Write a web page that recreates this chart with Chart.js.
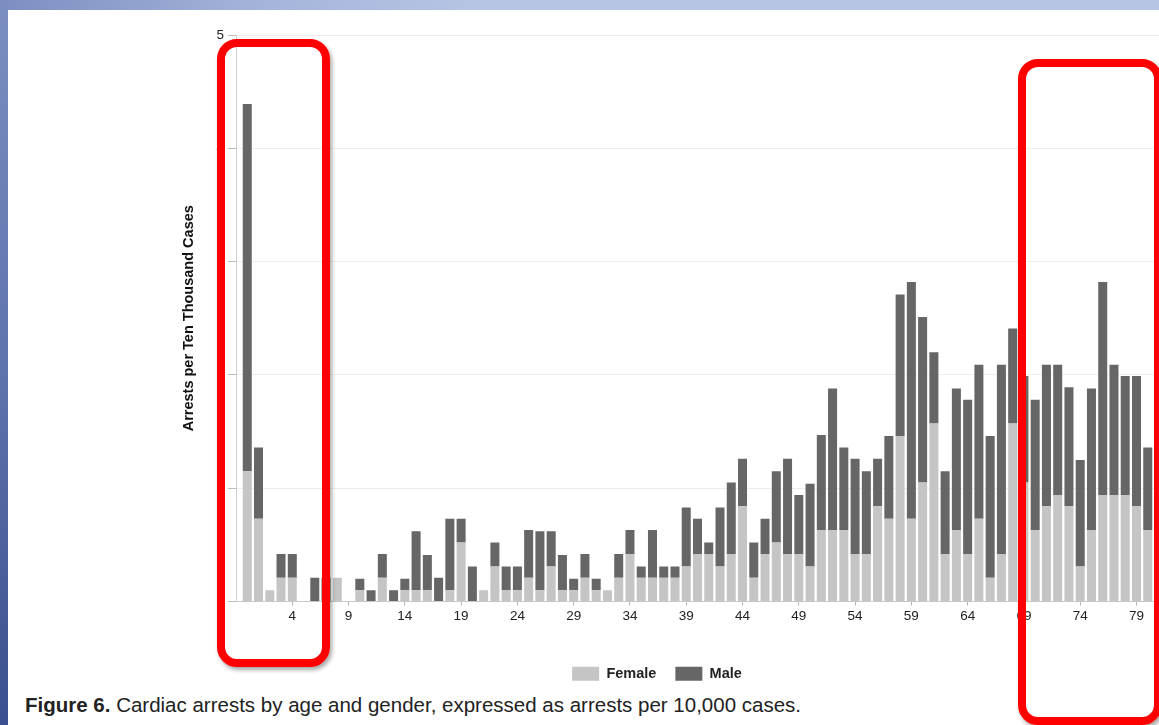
<!DOCTYPE html>
<html>
<head>
<meta charset="utf-8">
<title>Cardiac arrests by age and gender</title>
<script src="https://cdn.jsdelivr.net/npm/chart.js@4/dist/chart.umd.min.js"></script>
<style>
  html, body { margin: 0; padding: 0; }
  body { width: 1159px; height: 725px; position: relative; overflow: hidden; background: #fff;
         font-family: "Liberation Sans", Arial, sans-serif; }
  #band-top { position: absolute; left: 0; top: 0; width: 1159px; height: 10px;
              background: linear-gradient(90deg, #7c8ec1 0%, #a4b3da 22%, #b6c3e3 40%, #b7c4e4 100%); }
  #band-left { position: absolute; left: 0; top: 0; width: 8px; height: 725px;
               background: linear-gradient(180deg, #7c8ec1 0%, #5c70aa 55%, #3a4f8f 100%); }
  #chart { position: absolute; left: 155px; top: 20px; }
  #caption { position: absolute; left: 25px; top: 693px; font-size: 20.5px; line-height: 24px; color: #222;
             white-space: nowrap; }
  .callout { position: absolute; box-sizing: border-box; border: 8px solid #ff0000; border-radius: 20px;
             box-shadow: 2px 3px 4px rgba(0,0,0,0.35); }
</style>
</head>
<body>
<div id="band-top"></div>
<div id="band-left"></div>
<canvas id="chart" width="1004" height="671"></canvas>
<div id="caption"><b>Figure 6.</b> Cardiac arrests by age and gender, expressed as arrests per 10,000 cases.</div>
<div class="callout" style="left:217px; top:39px; width:113px; height:628px;"></div>
<div class="callout" style="left:1018px; top:59px; width:144px; height:666px;"></div>
<script>
// Age in years (one bar per year)
const ages = [0, 1, 2, 3, 4, 5, 6, 7, 8, 9,
              10, 11, 12, 13, 14, 15, 16, 17, 18, 19,
              20, 21, 22, 23, 24, 25, 26, 27, 28, 29,
              30, 31, 32, 33, 34, 35, 36, 37, 38, 39,
              40, 41, 42, 43, 44, 45, 46, 47, 48, 49,
              50, 51, 52, 53, 54, 55, 56, 57, 58, 59,
              60, 61, 62, 63, 64, 65, 66, 67, 68, 69,
              70, 71, 72, 73, 74, 75, 76, 77, 78, 79, 80];

// Arrests per 10,000 cases, female
const female = [1.15, 0.73, 0.10, 0.21, 0.21, 0, 0, 0, 0.21, 0,
                0.10, 0, 0.21, 0, 0.10, 0.10, 0.10, 0, 0.10, 0.52,
                0, 0.10, 0.31, 0.10, 0.10, 0.21, 0.10, 0.31, 0.10, 0.10,
                0.21, 0.10, 0.10, 0.21, 0.42, 0.21, 0.21, 0.21, 0.21, 0.31,
                0.42, 0.42, 0.31, 0.42, 0.84, 0.21, 0.42, 0.52, 0.42, 0.42,
                0.31, 0.63, 0.63, 0.63, 0.42, 0.42, 0.84, 0.73, 1.46, 0.73,
                1.05, 1.57, 0.42, 0.63, 0.42, 0.73, 0.21, 0.42, 1.57, 1.05,
                0.63, 0.84, 0.94, 0.84, 0.31, 0.63, 0.94, 0.94, 0.94, 0.84, 0.63];

// Arrests per 10,000 cases, male (stacked above female)
const male = [3.24, 0.63, 0, 0.21, 0.21, 0, 0.21, 0.21, 0, 0,
              0.10, 0.10, 0.21, 0.10, 0.10, 0.52, 0.31, 0.21, 0.63, 0.21,
              0.31, 0, 0.21, 0.21, 0.21, 0.42, 0.52, 0.31, 0.31, 0.10,
              0.21, 0.10, 0, 0.21, 0.21, 0.10, 0.42, 0.10, 0.10, 0.52,
              0.31, 0.10, 0.52, 0.63, 0.42, 0.31, 0.31, 0.63, 0.84, 0.52,
              0.73, 0.84, 1.25, 0.73, 0.84, 0.73, 0.42, 0.73, 1.25, 2.09,
              1.46, 0.63, 0.73, 1.25, 1.36, 1.36, 1.25, 1.67, 0.84, 0.94,
              1.15, 1.25, 1.15, 1.05, 0.94, 1.25, 1.88, 1.15, 1.05, 1.15, 0.73];

// Labelled ages on the horizontal axis and values on the vertical axis
const ageTicks = [4, 9, 14, 19, 24, 29, 34, 39, 44, 49, 54, 59, 64, 69, 74, 79];
const rateTicks = [0, 1, 2, 3, 4, 5];

const FONT = '"Liberation Sans", Arial, sans-serif';

new Chart(document.getElementById('chart'), {
  type: 'bar',
  data: {
    datasets: [
      { label: 'Female', data: ages.map((a, i) => ({ x: a, y: female[i] })),
        backgroundColor: '#c5c5c5', borderWidth: 0, stack: 'rate' },
      { label: 'Male', data: ages.map((a, i) => ({ x: a, y: male[i] })),
        backgroundColor: '#666666', borderWidth: 0, stack: 'rate' }
    ]
  },
  options: {
    responsive: false,
    animation: false,
    devicePixelRatio: 1,
    layout: { padding: { top: 15, left: 0, right: 0, bottom: 0 } },
    datasets: { bar: { categoryPercentage: 0.8, barPercentage: 1.0 } },
    plugins: {
      tooltip: { enabled: false },
      legend: {
        position: 'bottom',
        labels: { boxWidth: 27, boxHeight: 14, padding: 19, color: '#222',
                  font: { family: FONT, size: 14.5, weight: 'bold' } }
      }
    },
    scales: {
      x: {
        type: 'linear', stacked: true, min: -1, max: 81, offset: false,
        afterBuildTicks: s => { s.ticks = ageTicks.map(v => ({ value: v })); },
        afterFit: s => { s.height = 46; },
        grid: { display: true, drawOnChartArea: false, drawTicks: true, tickLength: 4,
                tickColor: '#b5b5b5', offset: false },
        border: { display: true, color: '#c9c9c9' },
        ticks: { color: '#222', font: { family: FONT, size: 13.5 }, padding: 3,
                 autoSkip: false, maxRotation: 0 }
      },
      y: {
        stacked: true, min: 0, max: 5,
        afterBuildTicks: s => { s.ticks = rateTicks.map(v => ({ value: v })); },
        afterFit: s => { s.width = 81; },
        grid: { color: '#ededed', tickLength: 8, tickColor: '#bdbdbd' },
        border: { color: '#cfcfcf' },
        ticks: { color: '#222', font: { family: FONT, size: 13.5 }, padding: 4 },
        title: { display: true, text: 'Arrests per Ten Thousand Cases', color: '#111',
                 font: { family: FONT, size: 14.5, weight: 'bold' }, padding: { top: 25, bottom: 4 } }
      }
    }
  }
});
</script>
</body>
</html>
